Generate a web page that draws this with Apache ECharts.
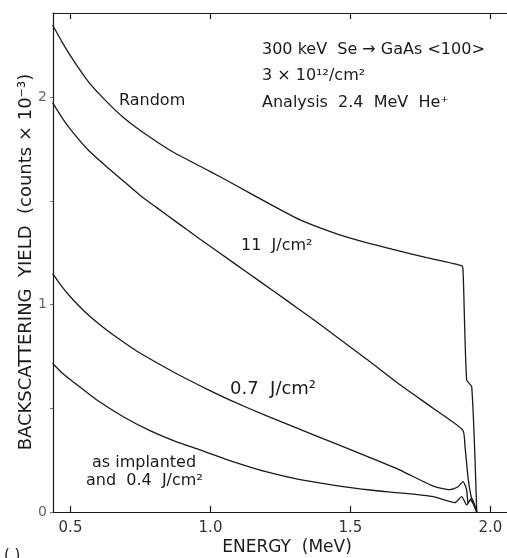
<!DOCTYPE html>
<html>
<head>
<meta charset="utf-8">
<script src="https://cdn.jsdelivr.net/npm/echarts@6/dist/echarts.min.js"></script>
<style>
html,body{margin:0;padding:0;background:#fff}
#chart{width:507px;height:558px}
</style>
</head>
<body>
<div id="chart"></div>
<script>
// energy (MeV) / yield (counts x 10^-3)
var energyRandom = [0.436,0.47,0.51,0.565,0.629,0.69,0.748,0.866,0.998,1.08,1.201,1.32,1.438,1.534,1.652,1.772,1.897,1.902,1.915,1.933,1.951];
var yieldRandom  = [2.347,2.265,2.178,2.072,1.978,1.900,1.840,1.735,1.642,1.582,1.492,1.408,1.347,1.307,1.266,1.226,1.187,1.166,0.636,0.604,0.0];

var energy11J = [0.436,0.47,0.51,0.565,0.629,0.69,0.748,0.808,0.88,0.963,1.08,1.18,1.272,1.36,1.438,1.534,1.57,1.677,1.795,1.901,1.909,1.921,1.934,1.951];
var yield11J  = [1.973,1.900,1.827,1.742,1.664,1.594,1.527,1.467,1.396,1.315,1.203,1.108,1.020,0.935,0.857,0.760,0.724,0.613,0.500,0.395,0.315,0.154,0.058,0.0];

var energy07J = [0.436,0.47,0.51,0.565,0.629,0.69,0.748,0.866,0.998,1.08,1.201,1.32,1.438,1.57,1.677,1.795,1.855,1.884,1.902,1.915,1.92,1.933,1.951];
var yield07J  = [1.150,1.085,1.022,0.948,0.877,0.818,0.766,0.676,0.585,0.533,0.463,0.398,0.334,0.262,0.202,0.125,0.108,0.122,0.146,0.106,0.043,0.067,0.0];

var energyImpl = [0.436,0.47,0.51,0.56,0.605,0.69,0.784,0.87,0.963,1.08,1.201,1.32,1.438,1.57,1.677,1.795,1.873,1.897,1.915,1.927,1.938,1.951];
var yieldImpl  = [0.717,0.670,0.627,0.575,0.530,0.458,0.392,0.343,0.299,0.243,0.193,0.156,0.130,0.106,0.092,0.074,0.045,0.074,0.034,0.058,0.043,0.0];

var xTicks = [0.5,1.0,1.5,2.0];
var yLabels = [0,1,2];
var yTicks = [0,0.5,1,1.5,2];

function pairs(xs, ys){
	var out=[];
	for(var i=0;i<xs.length;i++){ out.push([xs[i],ys[i]]); }
	return out;
}

var font = '"DejaVu Sans", sans-serif';
var ink = '#1a1a1a';

function curve(name, xs, ys){
	return {
		name: name,
		type: 'line',
		data: pairs(xs, ys),
		symbol: 'none',
		smooth: 0.2,
		lineStyle: {color: ink, width: 1.3},
		animation: false
	};
}

function note(text, x, y, size, align){
	return {
		type: 'text',
		x: x, y: y,
		style: {text: text, font: (size||16)+'px '+font, fill: ink,
			textAlign: align||'left', textVerticalAlign: 'middle'}
	};
}

var chart = echarts.init(document.getElementById('chart'));
chart.setOption({
	backgroundColor: '#fff',
	animation: false,
	grid: {left: 53, right: 0, top: 13, bottom: 46},
	xAxis: [{
		type: 'value', min: 0.4375, max: 2.059, position: 'bottom',
		axisLine: {lineStyle: {color: ink, width: 1.2}},
		axisTick: {customValues: xTicks, inside: true, length: 6, lineStyle: {color: ink, width: 1.2}},
		axisLabel: {customValues: xTicks, margin: 9, color: '#333', fontSize: 15, fontFamily: font,
			formatter: function(v){ return v.toFixed(1); }},
		splitLine: {show: false}
	},{
		type: 'value', min: 0.4375, max: 2.059, position: 'top',
		axisLine: {lineStyle: {color: ink, width: 1.2}},
		axisTick: {customValues: xTicks, inside: true, length: 6, lineStyle: {color: ink, width: 1.2}},
		axisLabel: {show: false},
		splitLine: {show: false}
	}],
	yAxis: {
		type: 'value', min: 0, max: 2.405,
		axisLine: {show: true, lineStyle: {color: ink, width: 1.2}},
		axisTick: {customValues: yTicks, inside: false, length: 3, lineStyle: {color: '#777'}},
		axisLabel: {customValues: yLabels, margin: 6, color: '#666', fontSize: 14, fontFamily: font},
		splitLine: {show: false}
	},
	series: [
		curve('Random', energyRandom, yieldRandom),
		curve('11 J/cm2', energy11J, yield11J),
		curve('0.7 J/cm2', energy07J, yield07J),
		curve('as implanted', energyImpl, yieldImpl)
	],
	graphic: [
		note('300 keV  Se \u2192 GaAs <100>', 262, 50),
		note('3 \u00d7 10\u00b9\u00b2/cm\u00b2', 262, 76),
		note('Analysis  2.4  MeV  He\u207a', 262, 103),
		note('Random', 119, 101),
		note('11  J/cm\u00b2', 241, 246),
		note('0.7  J/cm\u00b2', 230, 389, 18),
		note('as implanted', 92, 463),
		note('and  0.4  J/cm\u00b2', 86, 481),
		note('ENERGY  (MeV)', 287, 548, 17, 'center'),
		{
			type: 'text', x: 26, y: 262, rotation: Math.PI/2,
			style: {text: 'BACKSCATTERING  YIELD  (counts \u00d7 10\u207b\u00b3)', font: '18px '+font, fill: ink,
				textAlign: 'center', textVerticalAlign: 'middle'}
		},
		note('( )', 4, 556, 15)
	]
});
</script>
</body>
</html>
